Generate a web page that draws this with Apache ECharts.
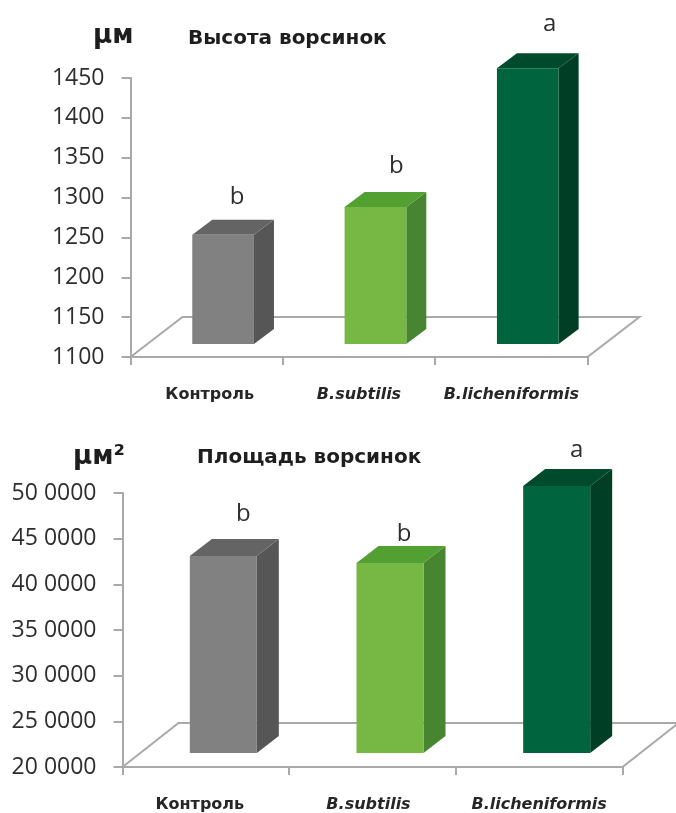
<!DOCTYPE html>
<html>
<head>
<meta charset="utf-8">
<style>html,body{margin:0;padding:0;background:#fff}#c{width:676px;height:813px}</style>
<script src="https://cdn.jsdelivr.net/npm/echarts@6/dist/echarts.min.js"></script>
</head>
<body>
<div id="c"></div>
<script>
// Villus measurements per treatment group
const categories = ['Контроль', 'B.subtilis', 'B.licheniformis'];
const heightValues = [1237, 1272, 1446];
const areaValues = [415700, 408000, 492300];
const significance = ['b', 'b', 'a'];
const heightLetterNudge = [[14, -38], [21, -41], [22, -44]];
const areaLetterNudge = [[20, -42], [14, -29], [20, -36]];

// Face colours of each box: front, right side, top
const faces = [
  ['#808180', '#555655', '#636463'],
  ['#76b843', '#478531', '#51a031'],
  ['#00643e', '#003f26', '#004a2d']
];
const axisGrey = '#a9a9a9';
const textDark = '#2e2e2e';
const font = '"Open Sans", sans-serif';
const boldFont = '"DejaVu Sans", sans-serif';

// Floor outline of the pseudo-3D plot area
function floorRenderer(depth) {
  return function (params, api) {
    const r = params.coordSys;
    const bottom = r.y + r.height, right = r.x + r.width;
    return {
      type: 'polygon',
      silent: true,
      shape: { points: [
        [r.x, bottom], [r.x + depth[0], bottom - depth[1]],
        [right + depth[0], bottom - depth[1]], [right, bottom]
      ] },
      style: { fill: '#ffffff', stroke: axisGrey, lineWidth: 2 }
    };
  };
}

// One box: the whole bar stands lift px above the axis floor, as if set back in depth
function boxRenderer(cfg) {
  return function (params, api) {
    const i = params.dataIndex;
    const band = api.size([1, 0])[0];
    const p = api.coord([api.value(0), api.value(1)]);
    const base = api.coord([api.value(0), cfg.min]);
    const cx = p[0] + band * cfg.shift;
    const x0 = cx - band * cfg.width / 2, x1 = cx + band * cfg.width / 2;
    const top = p[1] - cfg.lift, bot = base[1] - cfg.lift;
    const dx = cfg.depth[0], dy = cfg.depth[1];
    const c = faces[i];
    return {
      type: 'group',
      children: [
        { type: 'polygon', shape: { points: [[x1, top], [x1 + dx, top - dy], [x1 + dx, bot - dy], [x1, bot]] }, style: { fill: c[1] } },
        { type: 'polygon', shape: { points: [[x0, top], [x0 + dx, top - dy], [x1 + dx, top - dy], [x1, top]] }, style: { fill: c[2] } },
        { type: 'rect', shape: { x: x0, y: top, width: x1 - x0, height: bot - top }, style: { fill: c[0] } },
        { type: 'text', style: {
            text: significance[i],
            x: cx + cfg.nudge[i][0], y: top + cfg.nudge[i][1],
            align: 'center', verticalAlign: 'middle',
            fontFamily: font, fontSize: 24, fill: textDark
        } }
      ]
    };
  };
}

// Category labels: the first is upright, the bacterial names are italic
function xAxisFor(gridIndex, margin, pads) {
  return {
    type: 'category', gridIndex, data: categories,
    axisLine: { lineStyle: { color: axisGrey, width: 2 } },
    axisTick: { show: true, length: 8, alignWithLabel: false, lineStyle: { color: axisGrey, width: 2 } },
    axisLabel: {
      margin, interval: 0, color: '#262626',
      formatter: (v, i) => '{c' + i + '|' + v + '}',
      rich: {
        c0: { fontFamily: boldFont, fontWeight: 700, fontSize: 16, padding: pads[0] },
        c1: { fontFamily: boldFont, fontWeight: 700, fontStyle: 'italic', fontSize: 16, padding: pads[1] },
        c2: { fontFamily: boldFont, fontWeight: 700, fontStyle: 'italic', fontSize: 16, padding: pads[2] }
      }
    }
  };
}

function yAxisFor(gridIndex, min, max, interval, formatter, margin) {
  return {
    type: 'value', gridIndex, min, max, interval,
    axisLine: { show: true, lineStyle: { color: axisGrey, width: 2 } },
    axisTick: { show: true, length: 9, lineStyle: { color: axisGrey, width: 2 } },
    splitLine: { show: false },
    axisLabel: { margin, color: textDark, fontFamily: font, fontSize: 23, formatter }
  };
}

function seriesFor(index, values, cfg) {
  return [
    {
      type: 'custom', xAxisIndex: index, yAxisIndex: index, z: 1, silent: true,
      renderItem: floorRenderer(cfg.floor),
      data: [[0, cfg.min]]
    },
    {
      type: 'custom', xAxisIndex: index, yAxisIndex: index, z: 2, silent: true,
      renderItem: boxRenderer(cfg),
      data: values.map((v, i) => [i, v])
    }
  ];
}

const heightCfg = { min: 1100, shift: 0.108, width: 0.405, lift: 13, depth: [20, 15], floor: [52, 40], nudge: heightLetterNudge };
const areaCfg = { min: 200000, shift: 0.105, width: 0.402, lift: 14, depth: [22, 17], floor: [56, 44], nudge: areaLetterNudge };

function titleText(text, left, top, size) {
  return { text, left, top, textStyle: { fontFamily: boldFont, fontWeight: 700, fontSize: size, color: '#1e1e1e' } };
}

const chart = echarts.init(document.getElementById('c'), null, { renderer: 'canvas' });
chart.setOption({
  animation: false,
  backgroundColor: '#ffffff',
  title: [
    titleText('μм', 88, 18, 26),
    titleText('Высота ворсинок', 183, 24, 20),
    titleText('μм²', 68, 439, 26),
    titleText('Площадь ворсинок', 192, 443, 20)
  ],
  grid: [
    { left: 130.5, top: 78, width: 457, height: 279, containLabel: false, outerBoundsMode: 'none' },
    { left: 122.5, top: 493, width: 500, height: 274, containLabel: false, outerBoundsMode: 'none' }
  ],
  xAxis: [
    xAxisFor(0, 30, [[0, 0, 0, 6], 0, 0]),
    xAxisFor(1, 30, [[0, 12, 0, 0], [0, 8, 0, 0], 0])
  ],
  yAxis: [
    yAxisFor(0, 1100, 1450, 50, v => String(v), 26),
    yAxisFor(1, 200000, 500000, 50000, v => (v / 10000) + ' 0000', 26)
  ],
  series: [
    ...seriesFor(0, heightValues, heightCfg),
    ...seriesFor(1, areaValues, areaCfg)
  ]
});
</script>
</body>
</html>
